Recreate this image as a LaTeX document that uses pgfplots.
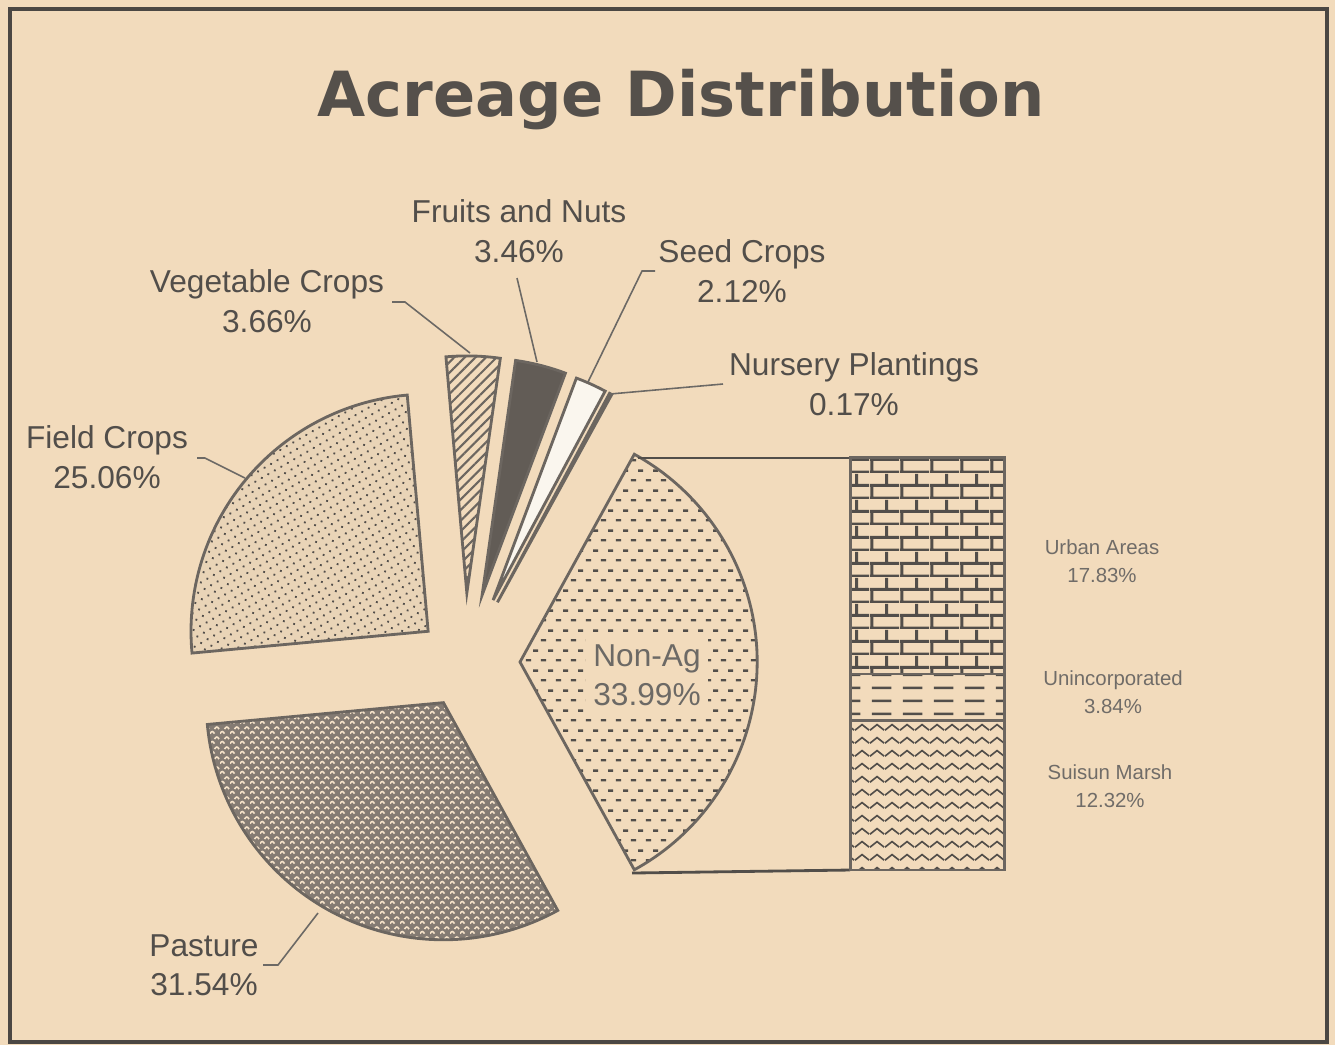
\documentclass[border=0pt]{standalone}
\usepackage{fontspec}
\setmainfont{Liberation Sans}
\newfontfamily\titlefont{DejaVu Sans}
\usepackage{pgfplots}
\pgfplotsset{compat=1.18}
\usepackage{pgfplotstable}
\usetikzlibrary{patterns,patterns.meta}

\definecolor{bg}{RGB}{242,219,188}
\definecolor{ink}{RGB}{82,78,74}
\definecolor{edge}{RGB}{108,102,96}
\definecolor{lbl}{RGB}{112,108,104}
\definecolor{pastfill}{RGB}{132,123,115}
\definecolor{fruitfill}{RGB}{98,92,86}
\definecolor{seedfill}{RGB}{250,246,238}
\definecolor{nursfill}{RGB}{80,76,72}

% custom fill patterns
\tikzdeclarepattern{name=shortdash, type=uncolored,
  bounding box={(0,0) and (0.15cm,0.2cm)}, tile size={(0.15cm,0.2cm)},
  code={\draw[line width=0.7pt] (0.01cm,0.05cm) -- (0.065cm,0.05cm);
        \draw[line width=0.7pt] (0.085cm,0.15cm) -- (0.14cm,0.15cm);}}
\tikzdeclarepattern{name=longdash, type=uncolored,
  bounding box={(0,0) and (0.31cm,0.13cm)}, tile size={(0.31cm,0.13cm)},
  code={\draw[line width=0.8pt] (0.04cm,0.065cm) -- (0.24cm,0.065cm);}}
\tikzdeclarepattern{name=brickwall, type=uncolored,
  bounding box={(0,0) and (0.30cm,0.26cm)}, tile size={(0.30cm,0.26cm)},
  code={\draw[line width=0.9pt] (0,0.01cm) -- (0.30cm,0.01cm) (0,0.14cm) -- (0.30cm,0.14cm)
          (0.02cm,0.01cm) -- (0.02cm,0.14cm) (0.17cm,0.14cm) -- (0.17cm,0.26cm);}}
\tikzdeclarepattern{name=zigzag, type=uncolored,
  bounding box={(0,0) and (0.15cm,0.13cm)}, tile size={(0.15cm,0.13cm)},
  code={\draw[line width=0.5pt] (0,0.03cm) -- (0.075cm,0.09cm) -- (0.15cm,0.03cm);}}
\tikzdeclarepattern{name=weave, type=uncolored,
  bounding box={(0,0) and (0.10cm,0.10cm)}, tile size={(0.10cm,0.10cm)},
  code={\draw[line width=0.5pt] (0,0.015cm) .. controls (0.02cm,0.045cm) and (0.03cm,0.045cm) .. (0.05cm,0.015cm);
        \draw[line width=0.5pt] (0.05cm,0.065cm) .. controls (0.07cm,0.095cm) and (0.08cm,0.095cm) .. (0.1cm,0.065cm);}}

\tikzset{
  slicebase/.style={draw=edge, line width=0.8pt},
  slice0/.style={slicebase, preaction={fill=bg}, pattern=shortdash, pattern color=ink},
  slice1/.style={slicebase, fill=nursfill},
  slice2/.style={slicebase, fill=seedfill},
  slice3/.style={slicebase, fill=fruitfill},
  slice4/.style={slicebase, preaction={fill=bg}, pattern={Lines[angle=45, distance=0.075cm, line width=0.6pt]}, pattern color=edge},
  slice5/.style={slicebase, preaction={fill=bg!92!gray}, pattern={Dots[distance=0.075cm, radius=0.013cm, angle=30]}, pattern color=ink},
  slice6/.style={slicebase, preaction={fill=pastfill}, pattern=weave, pattern color=bg!80!white},
  leader/.style={draw=ink!85, line width=0.45pt},
  lab/.style={text=ink, align=center, font=\fontsize{9}{11.2}\selectfont},
  barlab/.style={text=lbl, align=center, font=\fontsize{5.8}{8}\selectfont},
}

% pie: share in percent, explosion distance (px)
\pgfplotstableread{
label   value explode
NonAg   33.99 55
Nursery 0.17  68
Seed    2.12  68
Fruits  3.46  69
Veg     3.66  69
Field   25.06 48
Pasture 31.54 46
}\piedata

% bar of the Non-Ag slice, stacked from bottom
\pgfplotstableread{
label   value
Suisun  12.32
Uninc   3.84
Urban   17.83
}\bardata

\begin{document}
\begin{tikzpicture}
\begin{axis}[
  x=0.01cm, y=0.01cm,
  xmin=0, xmax=1335, ymin=0, ymax=1045,
  y dir=reverse,
  hide axis, clip=false,
]
\fill[bg] (axis cs:0,0) rectangle (axis cs:1335,1045);
\draw[edge!70!black, line width=0.9pt] (axis cs:10,9) rectangle (axis cs:1327,1042);

\node[text={rgb,255:red,85;green,80;blue,75}, font=\titlefont\bfseries\fontsize{17.7}{20}\selectfont]
  at (axis cs:681,100) {Acreage Distribution};

\pgfplotstablegetelem{0}{value}\of\piedata
\pgfmathsetmacro\cur{-1.8*\pgfplotsretval}
\pgfplotsforeachungrouped \i in {0,...,6}{%
  \pgfplotstablegetelem{\i}{value}\of\piedata\let\pv\pgfplotsretval
  \pgfplotstablegetelem{\i}{explode}\of\piedata\let\pd\pgfplotsretval
  \pgfmathsetmacro\pa{\cur}%
  \pgfmathsetmacro\pb{\cur+3.6*\pv}%
  \pgfmathsetmacro\pmid{(\pa+\pb)/2}%
  \pgfmathsetmacro\tx{465+\pd*cos(\pmid)}%
  \pgfmathsetmacro\ty{662-\pd*sin(\pmid)}%
  \edef\doslice{\noexpand\path[slice\i] (axis cs:\tx,\ty) -- ++(\pa:2.37cm)
    arc[start angle=\pa, end angle=\pb, radius=2.37cm] -- cycle;}%
  \doslice
  \let\cur\pb
}

% connector lines to the bar
\draw[ink, line width=0.8pt] (axis cs:638,458) -- (axis cs:850,458);
\draw[ink, line width=0.8pt] (axis cs:632,873) -- (axis cs:850,870);

% leader lines
\draw[leader] (axis cs:392,302) -- (axis cs:405,302) -- (axis cs:470,353);
\draw[leader] (axis cs:517,278) -- (axis cs:537,362);
\draw[leader] (axis cs:655,271) -- (axis cs:642,271) -- (axis cs:588,382);
\draw[leader] (axis cs:723,384) -- (axis cs:610,394);
\draw[leader] (axis cs:197,458) -- (axis cs:205,458) -- (axis cs:245,478);
\draw[leader] (axis cs:263,965) -- (axis cs:278,965) -- (axis cs:318,913);

% labels
\node[lab] at (axis cs:519,231) {Fruits and Nuts\\3.46\%};
\node[lab] at (axis cs:742,271) {Seed Crops\\2.12\%};
\node[lab] at (axis cs:267,301) {Vegetable Crops\\3.66\%};
\node[lab] at (axis cs:854,384) {Nursery Plantings\\0.17\%};
\node[lab] at (axis cs:107,457) {Field Crops\\25.06\%};
\node[lab] at (axis cs:204,965) {Pasture\\31.54\%};
\node[lab, text=ink!85, fill=bg, inner sep=2pt] at (axis cs:647,675) {Non-Ag\\33.99\%};

\node[barlab] at (axis cs:1102,561) {Urban Areas\\17.83\%};
\node[barlab] at (axis cs:1113,692) {Unincorporated\\3.84\%};
\node[barlab] at (axis cs:1110,786) {Suisun Marsh\\12.32\%};
\end{axis}

\begin{axis}[
  at={(8.50cm,1.75cm)}, anchor=south west,
  scale only axis, width=1.54cm, height=4.12cm,
  xmin=0, xmax=1, ymin=0, ymax=33.99,
  hide axis, clip=false,
  ybar stacked, bar width=1.54cm,
]
\addplot[draw=edge, line width=0.8pt, preaction={fill=bg}, pattern=zigzag, pattern color=ink]
  table[x expr=0.5, y=value, restrict expr to domain={\coordindex}{0:0}] {\bardata};
\addplot[draw=edge, line width=0.8pt, preaction={fill=bg}, pattern=longdash, pattern color=ink]
  table[x expr=0.5, y=value, restrict expr to domain={\coordindex}{1:1}] {\bardata};
\addplot[draw=edge, line width=0.8pt, preaction={fill=bg}, pattern=brickwall, pattern color=ink]
  table[x expr=0.5, y=value, restrict expr to domain={\coordindex}{2:2}] {\bardata};
\end{axis}
\end{tikzpicture}
\end{document}
